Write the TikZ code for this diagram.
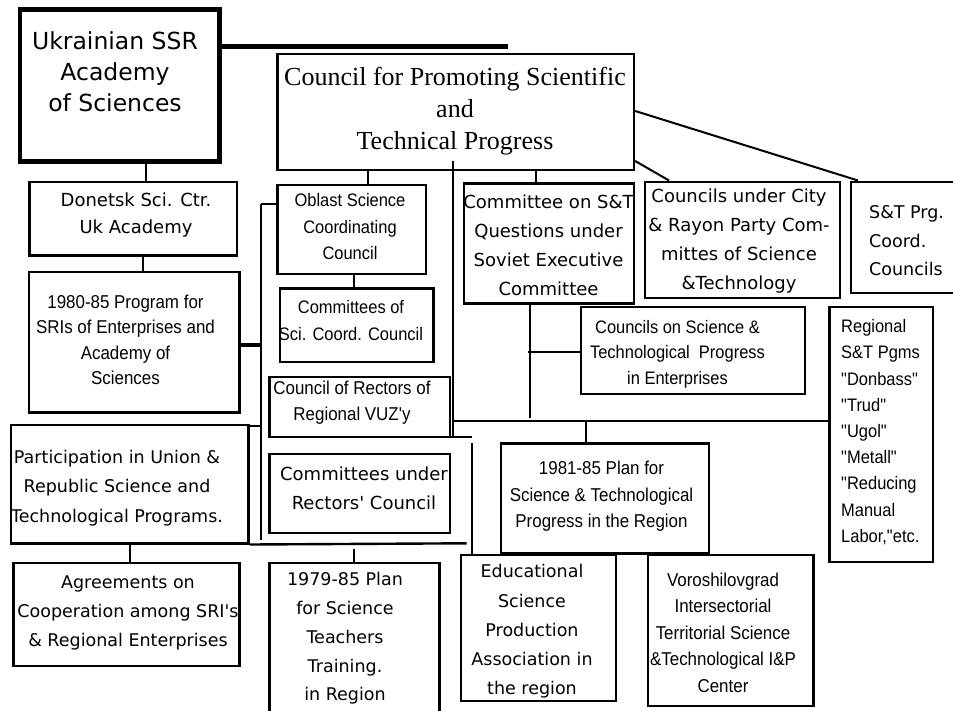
\documentclass[tikz,border=0pt]{standalone}
\usepackage{fontspec}
\setmainfont{DejaVu Sans}
\newfontfamily\gen{DejaVu Sans}
\newfontfamily\hel[FakeStretch=0.91]{Liberation Sans}
\newfontfamily\ser{Liberation Serif}
\newcommand\mkbox[6][]{\node[box,#1,minimum width={(#5-#3)*1pt},minimum height={(#6-#4)*1pt}] (#2) at ({(#3+#5)/2},{(#4+#6)/2}) {};}
\begin{document}
\begin{tikzpicture}[x=1pt,y=-1pt,
  box/.style={draw, line width=2.4pt, inner sep=0pt},
  conn/.style={line width=2pt},
  txt/.style={inner sep=0pt, align=center}]
\useasboundingbox[fill=white] (0,0) rectangle (953,710);
% boxes
\mkbox[line width=4.8pt]{ukr}{20}{9.5}{219.5}{161.5}
\mkbox{council}{277.5}{54}{634}{170}
\mkbox{donetsk}{29.3}{182}{237}{255.5}
\mkbox{program}{29}{272}{239.3}{412.3}
\mkbox{partic}{10.7}{425}{248.3}{543.3}
\mkbox{agree}{13.3}{562.7}{239.3}{666}
\mkbox{oblast}{277.3}{185}{426}{274}
\mkbox{comsci}{280}{288.3}{433.3}{362}
\mkbox{rectors}{269.3}{376.7}{450}{436.7}
\mkbox{comrect}{269.3}{454}{450}{532.7}
\mkbox{planA}{269.3}{562.7}{439.3}{730}
\mkbox{comst}{464}{183.3}{634}{303.3}
\mkbox{city}{645}{181.7}{840}{297.7}
\mkbox{stprg}{850.7}{181.7}{975}{292.7}
\mkbox{enterp}{581}{306.7}{805}{394}
\mkbox{regional}{829.3}{306.7}{932.7}{562}
\mkbox{planB}{501}{443.3}{708.7}{553.3}
\mkbox{edu}{461}{555}{615.7}{700.7}
\mkbox{voro}{647.7}{555}{813.3}{706}
% texts
\node[txt, font=\gen\fontsize{23.5}{31}\selectfont] (t1) at (115,72) {Ukrainian SSR\\Academy\\of Sciences};
\node[txt, font=\ser\fontsize{26}{31.7}\selectfont] (t2) at (455,111) {Council for Promoting Scientific\\and\\Technical Progress};
\node[txt, font=\gen\fontsize{18}{26.5}\selectfont] (t3) at (136,215) {Donetsk Sci. Ctr.\\Uk Academy};
\node[txt, font=\hel\fontsize{18.6}{25.3}\selectfont] (t4) at (125.5,340) {1980-85 Program for\\SRIs of Enterprises and\\Academy of\\Sciences};
\node[txt, font=\gen\fontsize{17.5}{29.5}\selectfont] (t5) at (117,488) {Participation in Union \&\\Republic Science and\\Technological Programs.};
\node[txt, font=\gen\fontsize{17.5}{29}\selectfont] (t6) at (128,613) {Agreements on\\Cooperation among SRI's\\\& Regional Enterprises};
\node[txt, font=\hel\fontsize{18.1}{26.5}\selectfont] (t7) at (350,227) {Oblast Science\\Coordinating\\Council};
\node[txt, font=\hel\fontsize{18.1}{27}\selectfont] (t8) at (351,320.5) {Committees of\\Sci. Coord. Council};
\node[txt, font=\hel\fontsize{18.6}{26}\selectfont] (t9) at (352,403) {Council of Rectors of\\Regional VUZ'y};
\node[txt, font=\gen\fontsize{18}{29}\selectfont] (t10) at (364,488.5) {Committees under\\Rectors' Council};
\node[txt, font=\gen\fontsize{17.5}{28.75}\selectfont] (t11) at (345,638.5) {1979-85 Plan\\for Science\\Teachers\\Training.\\in Region};
\node[txt, font=\gen\fontsize{18}{29}\selectfont] (t12) at (548.5,245.5) {Committee on S\&T\\Questions under\\Soviet Executive\\Committee};
\node[txt, font=\gen\fontsize{18}{29.3}\selectfont] (t13) at (739,241) {Councils under City\\\& Rayon Party Com-\\mittes of Science\\\&Technology};
\node[txt, font=\gen\fontsize{17.5}{28.5}\selectfont, align=left, anchor=west] (t14) at (869,241) {S\&T Prg.\\Coord.\\Councils};
\node[txt, font=\hel\fontsize{18.1}{25.5}\selectfont] (t15) at (677.5,354) {Councils on Science \&\\Technological\ \ Progress\\in Enterprises};
\node[txt, font=\hel\fontsize{18.1}{26.2}\selectfont, align=left, anchor=west] (t16) at (841,432) {Regional\\S\&T Pgms\\"Donbass"\\"Trud"\\"Ugol"\\"Metall"\\"Reducing\\Manual\\Labor,"etc.};
\node[txt, font=\hel\fontsize{18.6}{26.5}\selectfont] (t17) at (601.5,496.5) {1981-85 Plan for\\Science \& Technological\\Progress in the Region};
\node[txt, font=\gen\fontsize{17.5}{29.25}\selectfont] (t18) at (532,631.5) {Educational\\Science\\Production\\Association in\\the region};
\node[txt, font=\hel\fontsize{18.6}{26.5}\selectfont] (t19) at (723,632.5) {Voroshilovgrad\\Intersectorial\\Territorial Science\\\&Technological I\&P\\Center};
% connectors
\coordinate (thickend) at (508,46.5);
\draw[line width=4.3pt] (0,46.5 -| ukr.east) -- (thickend);
\draw[conn] (146,0 |- ukr.south) -- (146,0 |- donetsk.north);
\draw[conn] (143,0 |- donetsk.south) -- (143,0 |- program.north);
\draw[conn] (130,0 |- partic.south) -- (130,0 |- agree.north);
\draw[conn] (368,0 |- council.south) -- (368,0 |- oblast.north);
\draw[conn] (354,0 |- oblast.south) -- (354,0 |- comsci.north);
\draw[conn] (536,0 |- council.south) -- (536,0 |- comst.north);
\draw[conn] (0,161 -| council.east) -- (669,0 |- city.north);
\draw[conn] (0,111 -| council.east) -- (858,0 |- stprg.north);
\coordinate (j1) at (530,418);
\draw[conn] (530,0 |- comst.south) -- (j1);
\coordinate (j2) at (528,352);
\draw[conn] (j2) -- (0,352 -| enterp.west);
\coordinate (j3) at (452.5,421);
\draw[conn] (j3) -- (0,421 -| regional.west);
\draw[conn] (586,421) -- (586,0 |- planB.north);
\coordinate (v1top) at (452.5,161);
\coordinate (v1bot) at (452.5,437);
\draw[conn] (v1top) -- (v1bot);
\coordinate (h1a) at (430,437);
\coordinate (h1b) at (472,437);
\draw[conn] (h1a) -- (h1b);
\coordinate (v2top) at (472,443);
\draw[conn] (v2top) -- (472,0 |- edu.north);
\coordinate (lvtop) at (261,204);
\coordinate (lvbot) at (261,540);
\draw[conn] (lvtop) -- (lvbot);
\draw[conn] (lvtop) -- (0,204 -| oblast.west);
\draw[line width=4pt] (0,345 -| program.east) -- (261,345);
\draw[conn] (0,426 -| partic.east) -- (261,426);
\coordinate (bend) at (466.7,543.3);
\draw[line width=2.4pt] (partic.south east) -- (bend);
\coordinate (p79) at (354,549);
\draw[conn] (p79) -- (354,0 |- planA.north);
\end{tikzpicture}
\end{document}
